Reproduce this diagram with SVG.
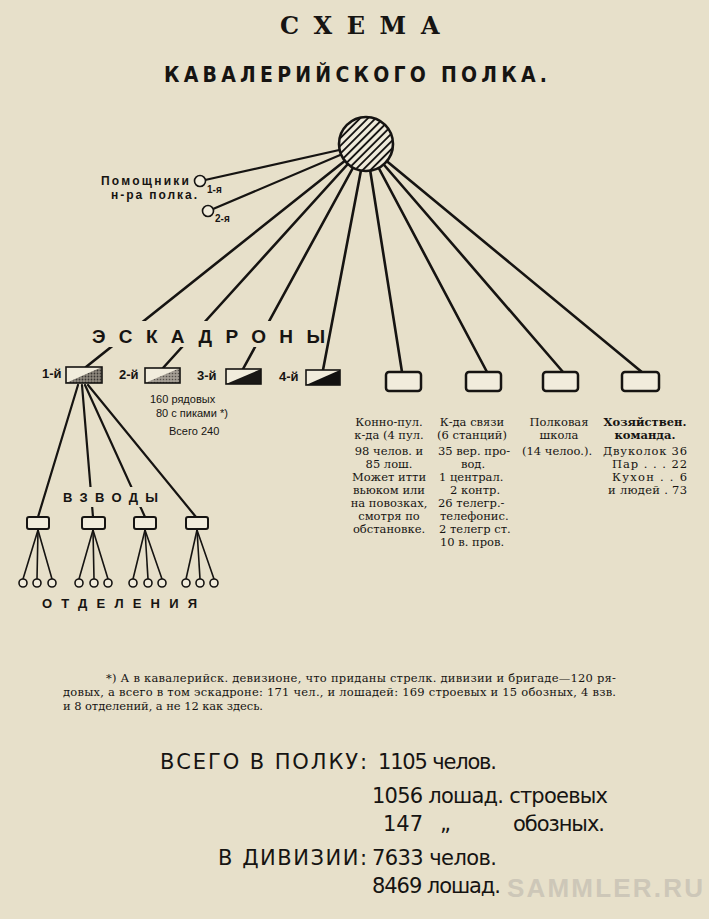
<svg xmlns="http://www.w3.org/2000/svg" width="709" height="919" viewBox="0 0 709 919">
<defs>
<pattern id="hatch" patternUnits="userSpaceOnUse" width="5.5" height="5.5" patternTransform="rotate(-45)">
<rect width="5.5" height="5.5" fill="#f1ecdc"/>
<line x1="0" y1="2.75" x2="5.5" y2="2.75" stroke="#161412" stroke-width="1.9"/>
</pattern>
<pattern id="dots1" patternUnits="userSpaceOnUse" width="3" height="3">
<rect width="3" height="3" fill="#8f897f"/>
<circle cx="1.5" cy="1.5" r="0.9" fill="#3a3632"/>
</pattern>
<pattern id="dots2" patternUnits="userSpaceOnUse" width="3" height="3">
<rect width="3" height="3" fill="#a39d93"/>
<circle cx="1.5" cy="1.5" r="0.8" fill="#55504a"/>
</pattern>
<style>
.ln{stroke:#161412;stroke-width:2.6;stroke-linecap:round;fill:none}
.ln2{stroke:#161412;stroke-width:2.2;stroke-linecap:round;fill:none}
.ln3{stroke:#161412;stroke-width:1.6;stroke-linecap:round;fill:none}
.box{fill:#f1ecdc;stroke:#161412;stroke-width:2.5}
.sfill{fill:#f1ecdc}
.sbox{fill:none;stroke:#161412;stroke-width:1.6}
.pbox{fill:#f1ecdc;stroke:#161412;stroke-width:2}
.sc{fill:#f1ecdc;stroke:#161412;stroke-width:1.6}
.t{fill:#161412}
.ttl{font-family:"DejaVu Serif","Liberation Serif",serif;font-weight:bold;font-size:24px}
.sub{font-family:"DejaVu Sans Condensed","DejaVu Sans","Liberation Sans",sans-serif;font-weight:bold;font-size:21px}
.big{font-family:"Liberation Sans","DejaVu Sans",sans-serif;font-weight:bold;font-size:19px}
.lab{font-family:"Liberation Sans","DejaVu Sans",sans-serif;font-weight:bold;font-size:13px}
.hl{font-family:"Liberation Sans","DejaVu Sans",sans-serif;font-weight:bold;font-size:12px}
.sm{font-family:"Liberation Sans","DejaVu Sans",sans-serif;font-weight:bold;font-size:10px}
.sq{font-family:"Liberation Sans","DejaVu Sans",sans-serif;font-size:11px}
.col{font-family:"DejaVu Serif","Liberation Serif",serif;font-size:11.5px}
.colb{font-family:"DejaVu Serif","Liberation Serif",serif;font-size:11.5px;font-weight:bold}
.fn{font-family:"DejaVu Serif","Liberation Serif",serif;font-size:11.5px}
.tot{font-family:"DejaVu Sans","Liberation Sans",sans-serif;font-size:21px}
.wm{font-family:"Liberation Sans","DejaVu Sans",sans-serif;font-weight:bold;font-size:26px;fill:#cdc7b8}
.mid{text-anchor:middle}
</style>
</defs>
<rect width="709" height="919" fill="#e7e0ca"/>

<g id="title" class="t">
<text class="ttl" x="280" y="34" textLength="160">СХЕМА</text>
<text class="sub" x="164" y="82" textLength="383">КАВАЛЕРИЙСКОГО ПОЛКА.</text>
</g>

<g id="connectors">
<line class="ln2" x1="366" y1="144" x2="205" y2="180"/>
<line class="ln2" x1="366" y1="144" x2="213" y2="209"/>
<line class="ln" x1="366" y1="144" x2="86" y2="367"/>
<line class="ln" x1="366" y1="144" x2="163" y2="368"/>
<line class="ln" x1="366" y1="144" x2="243" y2="369"/>
<line class="ln" x1="366" y1="144" x2="323" y2="370"/>
<line class="ln" x1="366" y1="144" x2="402" y2="372"/>
<line class="ln" x1="366" y1="144" x2="487" y2="372"/>
<line class="ln" x1="366" y1="144" x2="563" y2="372"/>
<line class="ln" x1="366" y1="144" x2="643" y2="373"/>
<line class="ln2" x1="78" y1="385" x2="38" y2="517"/>
<line class="ln2" x1="82" y1="385" x2="93" y2="517"/>
<line class="ln2" x1="85" y1="385" x2="145" y2="517"/>
<line class="ln2" x1="88" y1="385" x2="196" y2="517"/>
<line class="ln3" x1="38" y1="530" x2="23" y2="579"/>
<line class="ln3" x1="38" y1="530" x2="37" y2="579"/>
<line class="ln3" x1="38" y1="530" x2="52" y2="579"/>
<line class="ln3" x1="93" y1="530" x2="79" y2="579"/>
<line class="ln3" x1="93" y1="530" x2="94" y2="579"/>
<line class="ln3" x1="93" y1="530" x2="108" y2="579"/>
<line class="ln3" x1="145" y1="530" x2="133" y2="579"/>
<line class="ln3" x1="145" y1="530" x2="148" y2="579"/>
<line class="ln3" x1="145" y1="530" x2="162" y2="579"/>
<line class="ln3" x1="197" y1="530" x2="186" y2="579"/>
<line class="ln3" x1="197" y1="530" x2="200" y2="579"/>
<line class="ln3" x1="197" y1="530" x2="214" y2="579"/>
</g>

<g id="label-eskadrony">
<rect x="86" y="321" width="240" height="26" fill="#e7e0ca"/>
<text class="big t" x="92" y="343" textLength="233">ЭСКАДРОНЫ</text>
</g>
<g id="label-vzvody">
<rect x="60" y="487" width="101" height="20" fill="#e7e0ca"/>
<text class="lab t" x="63" y="502" textLength="95">ВЗВОДЫ</text>
</g>
<g id="label-otdeleniya">
<text class="lab t" x="42" y="608" textLength="155">ОТДЕЛЕНИЯ</text>
</g>

<g id="commander">
<circle cx="366" cy="144" r="27" fill="url(#hatch)" stroke="#161412" stroke-width="2.6"/>
</g>

<g id="helpers">
<circle class="sc" cx="200" cy="181" r="5.5"/>
<circle class="sc" cx="208" cy="211" r="5.5"/>
<text class="hl t" x="101" y="185" textLength="88">Помощники</text>
<text class="hl t" x="111" y="198.5" textLength="86">н-ра полка.</text>
<text class="sm t" x="207" y="193">1-я</text>
<text class="sm t" x="215" y="222">2-я</text>
</g>

<g id="squadron-1">
<rect class="sfill" x="66" y="367" width="36" height="16"/>
<polygon points="66,383 102,367 102,383" fill="url(#dots1)"/>
<rect class="sbox" x="66" y="367" width="36" height="16"/>
<text class="lab t" x="42" y="378">1-й</text>
</g>
<g id="squadron-2">
<rect class="sfill" x="145" y="368" width="35" height="15"/>
<polygon points="145,383 180,368 180,383" fill="url(#dots2)"/>
<rect class="sbox" x="145" y="368" width="35" height="15"/>
<text class="lab t" x="119" y="379">2-й</text>
</g>
<g id="squadron-3">
<rect class="sfill" x="226" y="369" width="35" height="15"/>
<polygon points="226,384 261,369 261,384" fill="#1a1816"/>
<rect class="sbox" x="226" y="369" width="35" height="15"/>
<text class="lab t" x="197" y="380">3-й</text>
</g>
<g id="squadron-4">
<rect class="sfill" x="306" y="370" width="34" height="15"/>
<polygon points="306,385 340,370 340,385" fill="#121110"/>
<rect class="sbox" x="306" y="370" width="34" height="15"/>
<text class="lab t" x="279" y="381">4-й</text>
</g>
<g id="squadron-note" class="t">
<text class="sq" x="150" y="403">160 рядовых</text>
<text class="sq" x="156" y="417">80 с пиками *)</text>
<text class="sq" x="169" y="435">Всего 240</text>
</g>

<g id="mg-squadron">
<rect class="box" x="386" y="372" width="35" height="19" rx="3"/>
<g class="col t">
<text class="mid" x="389" y="426">Конно-пул.</text>
<text class="mid" x="389" y="439">к-да (4 пул.</text>
<text class="mid" x="389" y="455">98 челов. и</text>
<text class="mid" x="389" y="468">85 лош.</text>
<text class="mid" x="389" y="481">Может итти</text>
<text class="mid" x="389" y="494">вьюком или</text>
<text class="mid" x="389" y="507">на повозках,</text>
<text class="mid" x="389" y="520">смотря по</text>
<text class="mid" x="389" y="533">обстановке.</text>
</g>
</g>

<g id="signal-team">
<rect class="box" x="466" y="372" width="35" height="19" rx="3"/>
<g class="col t">
<text class="mid" x="472" y="426">К-да связи</text>
<text class="mid" x="472" y="439">(6 станций)</text>
<text x="438" y="455">35 вер. про-</text>
<text class="mid" x="473" y="468">вод.</text>
<text x="439" y="481">1 централ.</text>
<text x="450" y="494">2 контр.</text>
<text x="438" y="507">26 телегр.-</text>
<text x="440" y="520">телефонис.</text>
<text x="439" y="533">2 телегр ст.</text>
<text x="440" y="546">10 в. пров.</text>
</g>
</g>

<g id="regimental-school">
<rect class="box" x="543" y="372" width="35" height="19" rx="3"/>
<g class="col t">
<text class="mid" x="559" y="426">Полковая</text>
<text class="mid" x="559" y="439">школа</text>
<text x="522" y="455">(14  челоо.).</text>
</g>
</g>

<g id="supply-team">
<rect class="box" x="622" y="372" width="37" height="19" rx="3"/>
<g class="t">
<text class="colb mid" x="645" y="426">Хозяйствен.</text>
<text class="colb mid" x="645" y="439">команда.</text>
<text class="col" x="603" y="455" textLength="84">Двуколок 36</text>
<text class="col" x="612" y="468" textLength="75">Пар . . . 22</text>
<text class="col" x="612" y="481" textLength="75">Кухон . . 6</text>
<text class="col" x="608" y="494" textLength="79">и людей . 73</text>
</g>
</g>

<g id="platoon-1"><rect class="pbox" x="27" y="517" width="22" height="12" rx="2"/></g>
<g id="platoon-2"><rect class="pbox" x="82" y="517" width="23" height="12" rx="2"/></g>
<g id="platoon-3"><rect class="pbox" x="134" y="517" width="22" height="12" rx="2"/></g>
<g id="platoon-4"><rect class="pbox" x="186" y="517" width="22" height="12" rx="2"/></g>

<g id="sections">
<circle class="sc" cx="23" cy="583" r="4"/>
<circle class="sc" cx="37" cy="583" r="4"/>
<circle class="sc" cx="52" cy="583" r="4"/>
<circle class="sc" cx="79" cy="583" r="4"/>
<circle class="sc" cx="94" cy="583" r="4"/>
<circle class="sc" cx="108" cy="583" r="4"/>
<circle class="sc" cx="133" cy="583" r="4"/>
<circle class="sc" cx="148" cy="583" r="4"/>
<circle class="sc" cx="162" cy="583" r="4"/>
<circle class="sc" cx="186" cy="583" r="4"/>
<circle class="sc" cx="200" cy="583" r="4"/>
<circle class="sc" cx="214" cy="583" r="4"/>
</g>

<g id="footnote" class="fn t">
<text x="106" y="682" textLength="510">*) А в кавалерийск. девизионе, что  приданы стрелк. дивизии и бригаде—120 ря-</text>
<text x="63" y="696" textLength="553">довых, а всего в том эскадроне: 171 чел., и  лошадей: 169 строевых и 15 обозных, 4 взв.</text>
<text x="63" y="710" textLength="200">и 8 отделений, а не 12 как здесь.</text>
</g>

<g id="watermark">
<text class="wm" x="507" y="897" textLength="196">SAMMLER.RU</text>
</g>

<g id="totals" class="tot t">
<text x="160" y="769" textLength="207">ВСЕГО В ПОЛКУ:</text>
<text x="378" y="769" textLength="119">1105 челов.</text>
<text x="372" y="803" textLength="236">1056 лошад. строевых</text>
<text x="383" y="831">147</text>
<text x="440" y="831">„</text>
<text x="513" y="831" textLength="92">обозных.</text>
<text x="218" y="865" textLength="149">В ДИВИЗИИ:</text>
<text x="372" y="865" textLength="125">7633 челов.</text>
<text x="372" y="893" textLength="129">8469 лошад.</text>
</g>
</svg>
